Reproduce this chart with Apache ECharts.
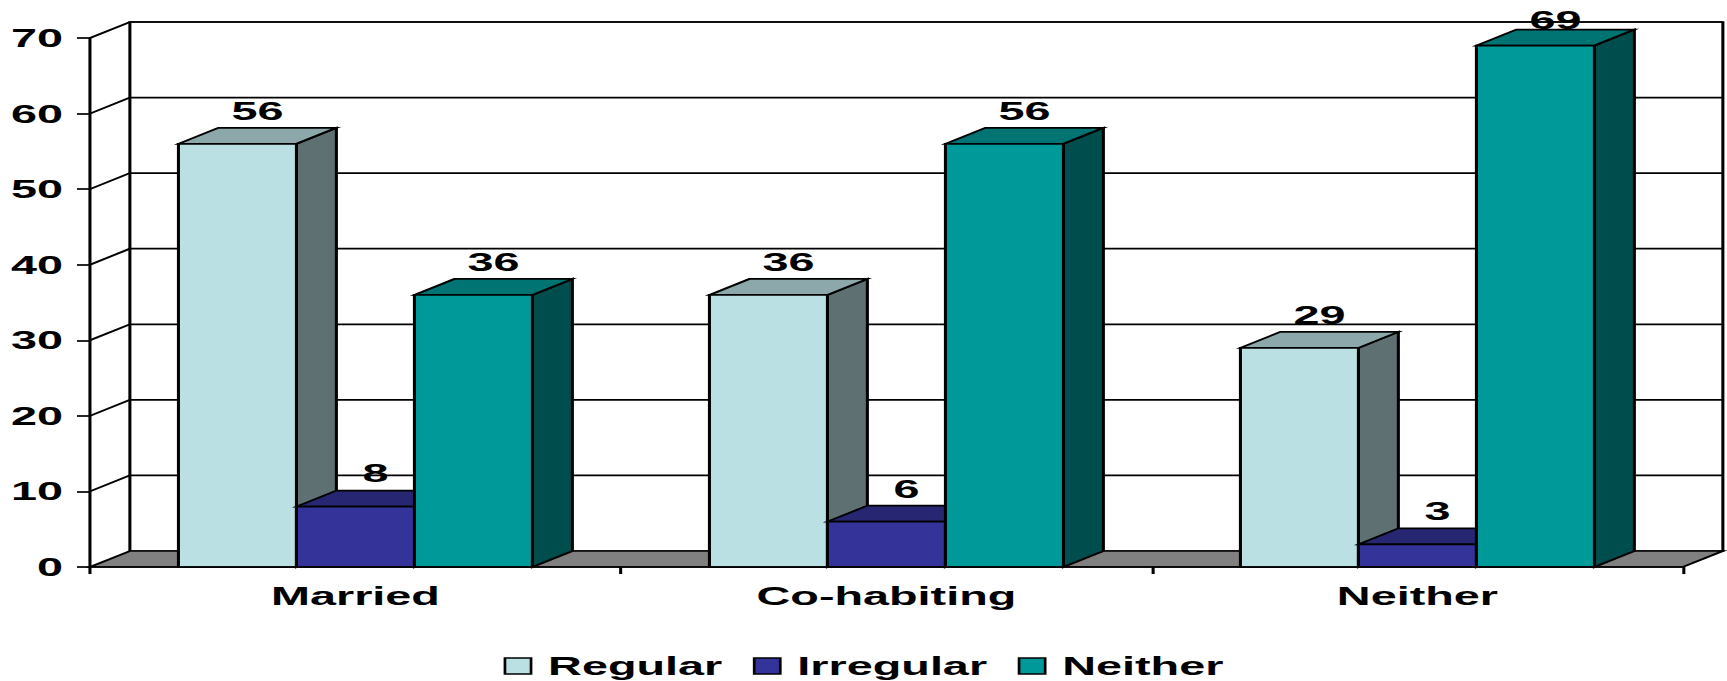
<!DOCTYPE html>
<html>
<head>
<meta charset="utf-8">
<script src="https://cdn.jsdelivr.net/npm/echarts@6/dist/echarts.min.js"></script>
<style>
  html, body { margin: 0; padding: 0; background: #fff; overflow: hidden; }
  /* The chart is laid out narrow and widened horizontally, giving the
     broad lettering and heavy vertical strokes of a stretched slide chart. */
  #chart {
    width: 960px; height: 681px;
    transform: scaleX(1.79896); transform-origin: 0 0;
  }
</style>
</head>
<body>
<div id="chart"></div>
<script>
// ---- data ----
const categories = ['Married', 'Co-habiting', 'Neither'];
const seriesNames = ['Regular', 'Irregular', 'Neither'];
const regular   = [56, 36, 29];
const irregular = [8, 6, 3];
const neither   = [36, 56, 69];
const yTicks = [0, 10, 20, 30, 40, 50, 60, 70];

// ---- styles ----
const FONT = 'Liberation Sans, Arial, sans-serif';
const FS = 26;
const LW = 1.7;              // outline width
const DX = 22.2, DY = 16;    // depth offset of the 3D box
const LABEL_MIN_Y = 33;      // keep value labels inside the canvas
const faceColors = [
  { front: '#BBE0E3', top: '#8CA8AA', side: '#5E7072' },
  { front: '#333399', top: '#262673', side: '#1A1A4D' },
  { front: '#009999', top: '#007373', side: '#004D4D' }
];

const chart = echarts.init(document.getElementById('chart'), null, { renderer: 'svg' });

// Back wall, side wall and floor of the 3D box
function renderWalls(params, api) {
  const cs = params.coordSys;
  const x = cs.x, y = cs.y, w = cs.width, h = cs.height;
  const stroke = { stroke: '#000', lineWidth: LW };
  return {
    type: 'group',
    children: [
      { type: 'polygon', shape: { points: [[x, y], [x + DX, y - DY], [x + DX, y + h - DY], [x, y + h]] },
        style: { fill: '#fff' } },
      { type: 'rect', shape: { x: x + DX, y: y - DY, width: w, height: h },
        style: Object.assign({ fill: '#fff' }, stroke) },
      { type: 'polygon', shape: { points: [[x, y + h], [x + DX, y + h - DY], [x + w + DX, y + h - DY], [x + w, y + h]] },
        style: Object.assign({ fill: '#808080' }, stroke) }
    ]
  };
}

// One gridline per tick: diagonal across the side wall, then along the back wall
function renderGrid(params, api) {
  const cs = params.coordSys;
  const yy = api.coord([0, api.value(1)])[1];
  return {
    type: 'polyline',
    shape: { points: [[cs.x, yy], [cs.x + DX, yy - DY], [cs.x + cs.width + DX, yy - DY]] },
    style: { stroke: '#000', lineWidth: LW, fill: null }
  };
}

// 3D column: front face, top face, right side face and value label
function makeBarRenderer(idx) {
  const c = faceColors[idx];
  return function (params, api) {
    const cat = api.value(0), val = api.value(1);
    const base = api.coord([cat, 0]);
    const tp = api.coord([cat, val]);
    const band = api.size([1, 0])[0];
    const bw = band / 4.5;
    const cx = base[0] + (idx - 1) * bw;
    const x0 = cx - bw / 2, x1 = cx + bw / 2;
    const y0 = base[1], y1 = tp[1];
    const st = { stroke: '#000', lineWidth: LW, lineJoin: 'miter' };
    return {
      type: 'group',
      children: [
        { type: 'polygon', shape: { points: [[x1, y1], [x1 + DX, y1 - DY], [x1 + DX, y0 - DY], [x1, y0]] },
          style: Object.assign({ fill: c.side }, st) },
        { type: 'polygon', shape: { points: [[x0, y1], [x1, y1], [x1 + DX, y1 - DY], [x0 + DX, y1 - DY]] },
          style: Object.assign({ fill: c.top }, st) },
        { type: 'rect', shape: { x: x0, y: y1, width: bw, height: y0 - y1 },
          style: Object.assign({ fill: c.front }, st) },
        { type: 'text', x: cx + DX / 2, y: Math.max(y1 - DY - 4, LABEL_MIN_Y),
          z2: 10,
          style: { text: String(val), fill: '#000', font: 'bold ' + FS + 'px ' + FONT,
                   align: 'center', verticalAlign: 'bottom' } }
      ]
    };
  };
}

const valueSets = [regular, irregular, neither];

const option = {
  animation: false,
  backgroundColor: '#fff',
  grid: { left: 50, right: 24.5, top: 38, bottom: 114 },
  xAxis: {
    type: 'category',
    data: categories,
    z: 10,
    axisLine: { lineStyle: { color: '#000', width: LW } },
    axisTick: { show: true, length: 7, lineStyle: { color: '#000', width: LW } },
    axisLabel: { color: '#000', fontFamily: FONT, fontWeight: 'bold', fontSize: FS, margin: 16 },
    splitLine: { show: false }
  },
  yAxis: {
    type: 'value',
    min: 0, max: 70, interval: 10,
    z: 10,
    axisLine: { show: true, lineStyle: { color: '#000', width: LW } },
    axisTick: { show: true, length: 7.2, lineStyle: { color: '#000', width: LW } },
    axisLabel: { color: '#000', fontFamily: FONT, fontWeight: 'bold', fontSize: FS, margin: 15 },
    splitLine: { show: false }
  },
  legend: {
    bottom: 2,
    left: 'center',
    padding: 0,
    itemWidth: 14.5,
    itemHeight: 16,
    itemGap: 17,
    textStyle: { color: '#000', fontFamily: FONT, fontWeight: 'bold', fontSize: FS, padding: [0, 0, 0, 4.5] },
    data: seriesNames.map((n, i) => ({
      name: n, icon: 'rect',
      itemStyle: { color: faceColors[i].front, borderColor: '#000', borderWidth: 1.5 }
    }))
  },
  series: [
    { type: 'custom', name: 'walls', z: 1, clip: false, silent: true,
      renderItem: renderWalls, data: [[0, 0]] },
    { type: 'custom', name: 'grid', z: 1, clip: false, silent: true,
      renderItem: renderGrid, data: yTicks.slice(1).map(v => [0, v]) }
  ].concat(seriesNames.map((n, i) => ({
    type: 'custom',
    name: n,
    z: 3 + i,
    clip: false,
    itemStyle: { color: faceColors[i].front },
    renderItem: makeBarRenderer(i),
    encode: { x: 0, y: 1 },
    data: valueSets[i].map((v, j) => [j, v])
  })))
};

chart.setOption(option);
</script>
</body>
</html>
